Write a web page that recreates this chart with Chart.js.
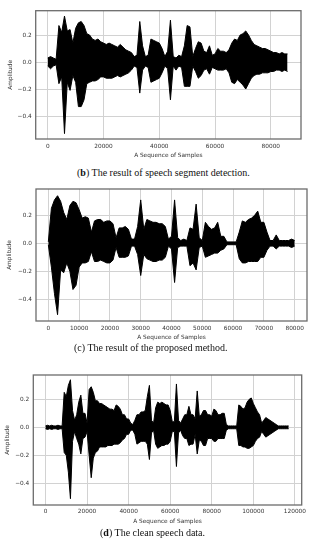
<!DOCTYPE html>
<html>
<head>
<meta charset="utf-8">
<script src="https://cdn.jsdelivr.net/npm/chart.js@4.4.1/dist/chart.umd.min.js"></script>
<style>
  body {
    margin: 0;
    background: #fff;
    width: 312px;
    height: 550px;
    position: relative;
    overflow: hidden;
  }
  .panel { position: absolute; left: 0; }
  .caption {
    position: absolute;
    font-family: "Liberation Serif", serif;
    font-size: 10px;
    color: #111;
    white-space: nowrap;
    line-height: 1;
  }
</style>
</head>
<body>

<div class="panel" style="top:0px"><canvas id="chartB" width="312" height="162"></canvas></div>
<div class="caption" style="left:77px; top:168px">(<b>b</b>) The result of speech segment detection.</div>

<div class="panel" style="top:179px"><canvas id="chartC" width="312" height="165"></canvas></div>
<div class="caption" style="left:74px; top:343px">(c) The result of the proposed method.</div>

<div class="panel" style="top:365px"><canvas id="chartD" width="312" height="163"></canvas></div>
<div class="caption" style="left:100px; top:528px">(<b>d</b>) The clean speech data.</div>

<script>
// one envelope value every 1000 samples
const sampleStep = 1000;

// (b) speech segment detection
const upperB = [
    0.03, 0.04, 0.03, 0.02, 0.27, 0.22, 0.34, 0.23, 0.24, 0.14,
    0.25, 0.29, 0.30, 0.27, 0.21, 0.20, 0.17, 0.16, 0.17, 0.15,
    0.14, 0.13, 0.14, 0.13, 0.12, 0.11, 0.13, 0.11, 0.09, 0.08,
    0.07, 0.04, 0.05, 0.30, 0.12, 0.04, 0.05, 0.17, 0.16, 0.15,
    0.14, 0.10, 0.04, 0.08, 0.31, 0.04, 0.03, 0.05, 0.04, 0.12,
    0.27, 0.26, 0.04, 0.10, 0.15, 0.14, 0.08, 0.07, 0.12, 0.05,
    0.06, 0.10, 0.08, 0.08, 0.07, 0.09, 0.14, 0.17, 0.16, 0.20,
    0.21, 0.23, 0.20, 0.16, 0.13, 0.12, 0.11, 0.10, 0.10, 0.09,
    0.08, 0.07, 0.07, 0.06, 0.07, 0.06, 0.06
];
const lowerB = [
    -0.03, -0.05, -0.03, -0.02, -0.16, -0.11, -0.53, -0.15, -0.21, -0.10,
    -0.15, -0.33, -0.33, -0.28, -0.16, -0.15, -0.14, -0.14, -0.13, -0.11,
    -0.11, -0.12, -0.12, -0.12, -0.11, -0.10, -0.11, -0.10, -0.09, -0.08,
    -0.06, -0.03, -0.04, -0.23, -0.06, -0.03, -0.04, -0.15, -0.14, -0.13,
    -0.12, -0.08, -0.03, -0.05, -0.28, -0.03, -0.06, -0.03, -0.04, -0.18,
    -0.18, -0.18, -0.03, -0.07, -0.12, -0.10, -0.06, -0.05, -0.09, -0.04,
    -0.05, -0.06, -0.06, -0.06, -0.05, -0.08, -0.15, -0.16, -0.13, -0.15,
    -0.17, -0.20, -0.16, -0.12, -0.10, -0.09, -0.09, -0.08, -0.08, -0.08,
    -0.07, -0.07, -0.06, -0.06, -0.07, -0.06, -0.07
];

// (c) proposed method
const upperC = [
    0.01, 0.25, 0.31, 0.34, 0.30, 0.22, 0.17, 0.27, 0.30, 0.29,
    0.24, 0.18, 0.19, 0.18, 0.08, 0.16, 0.17, 0.17, 0.15, 0.16,
    0.16, 0.14, 0.04, 0.11, 0.11, 0.12, 0.10, 0.03, 0.03, 0.12,
    0.31, 0.10, 0.17, 0.16, 0.15, 0.15, 0.14, 0.14, 0.12, 0.03,
    0.05, 0.31, 0.04, 0.02, 0.03, 0.02, 0.11, 0.10, 0.28, 0.04,
    0.02, 0.15, 0.12, 0.10, 0.11, 0.15, 0.05, 0.05, 0.01, 0.01,
    0.01, 0.01, 0.08, 0.16, 0.15, 0.17, 0.18, 0.20, 0.23, 0.15,
    0.15, 0.08, 0.02, 0.02, 0.06, 0.02, 0.02, 0.02, 0.02, 0.03,
    0.02
];
const lowerC = [
    -0.01, -0.17, -0.36, -0.51, -0.19, -0.21, -0.14, -0.20, -0.33, -0.30,
    -0.17, -0.14, -0.14, -0.13, -0.06, -0.13, -0.13, -0.12, -0.13, -0.14,
    -0.14, -0.12, -0.03, -0.10, -0.10, -0.10, -0.09, -0.02, -0.02, -0.08,
    -0.23, -0.08, -0.11, -0.12, -0.13, -0.13, -0.12, -0.12, -0.10, -0.02,
    -0.04, -0.28, -0.03, -0.02, -0.02, -0.02, -0.16, -0.14, -0.19, -0.03,
    -0.02, -0.10, -0.09, -0.08, -0.07, -0.07, -0.05, -0.04, -0.01, -0.01,
    -0.01, -0.01, -0.11, -0.14, -0.14, -0.13, -0.13, -0.13, -0.13, -0.10,
    -0.10, -0.05, -0.02, -0.02, -0.04, -0.02, -0.02, -0.02, -0.02, -0.03,
    -0.02
];

// (d) clean speech data
const upperD = [
    0.01, 0.015, 0.01, 0.015, 0.01, 0.01, 0.015, 0.01, 0.01, 0.25,
    0.22, 0.30, 0.34, 0.12, 0.05, 0.09, 0.18, 0.23, 0.10, 0.10,
    0.03, 0.27, 0.29, 0.25, 0.19, 0.19, 0.17, 0.17, 0.16, 0.15,
    0.14, 0.13, 0.13, 0.12, 0.16, 0.15, 0.13, 0.09, 0.09, 0.06,
    0.06, 0.03, 0.02, 0.05, 0.09, 0.09, 0.11, 0.11, 0.12, 0.22,
    0.30, 0.05, 0.03, 0.14, 0.18, 0.17, 0.18, 0.17, 0.16, 0.16,
    0.12, 0.04, 0.04, 0.31, 0.05, 0.03, 0.06, 0.09, 0.09, 0.15,
    0.09, 0.09, 0.06, 0.26, 0.08, 0.09, 0.12, 0.12, 0.09, 0.09,
    0.08, 0.13, 0.12, 0.09, 0.09, 0.10, 0.10, 0.02, 0.01, 0.01,
    0.01, 0.01, 0.01, 0.16, 0.15, 0.13, 0.14, 0.18, 0.20, 0.21,
    0.17, 0.14, 0.11, 0.09, 0.03, 0.05, 0.07, 0.06, 0.05, 0.04,
    0.03, 0.02, 0.01, 0.01, 0.01, 0.01, 0.01, 0.01
];
const lowerD = [
    -0.01, -0.015, -0.01, -0.015, -0.01, -0.01, -0.015, -0.01, -0.01, -0.18,
    -0.20, -0.32, -0.51, -0.10, -0.03, -0.08, -0.12, -0.19, -0.08, -0.07,
    -0.03, -0.20, -0.36, -0.22, -0.18, -0.17, -0.14, -0.14, -0.14, -0.14,
    -0.13, -0.13, -0.13, -0.12, -0.12, -0.12, -0.11, -0.09, -0.08, -0.05,
    -0.05, -0.02, -0.02, -0.05, -0.12, -0.11, -0.10, -0.10, -0.10, -0.12,
    -0.23, -0.04, -0.02, -0.12, -0.15, -0.14, -0.13, -0.13, -0.12, -0.12,
    -0.10, -0.03, -0.03, -0.28, -0.04, -0.02, -0.06, -0.08, -0.08, -0.13,
    -0.12, -0.12, -0.05, -0.19, -0.09, -0.10, -0.13, -0.13, -0.08, -0.08,
    -0.08, -0.10, -0.10, -0.08, -0.08, -0.08, -0.08, -0.02, -0.01, -0.01,
    -0.01, -0.01, -0.01, -0.13, -0.13, -0.14, -0.14, -0.15, -0.15, -0.14,
    -0.13, -0.10, -0.08, -0.07, -0.03, -0.05, -0.07, -0.06, -0.05, -0.04,
    -0.03, -0.02, -0.01, -0.01, -0.01, -0.01, -0.01, -0.01
];

// tick labels
const xTicksB = [0, 20000, 40000, 60000, 80000];
const xTicksC = [0, 10000, 20000, 30000, 40000, 50000, 60000, 70000, 80000];
const xTicksD = [0, 20000, 40000, 60000, 80000, 100000, 120000];
const yTicks = [-0.4, -0.2, 0.0, 0.2];

const xTitle = "A Sequence of Samples";
const yTitle = "Amplitude";

const tickFont = { family: "DejaVu Sans", size: 5.8 };
const textColor = "#333";

// grey box round the plot area
const framePlugin = {
    id: "frame",
    afterDatasetsDraw(chart) {
        const { ctx, chartArea: a } = chart;
        ctx.save();
        ctx.strokeStyle = "#6c6c6c";
        ctx.lineWidth = 1.3;
        ctx.strokeRect(a.left, a.top, a.right - a.left, a.bottom - a.top);
        ctx.restore();
    }
};

function toPoints(values) {
    return values.map((v, i) => ({ x: i * sampleStep, y: v }));
}

function createWave(id, p) {

    const ctx = document.getElementById(id);

    return new Chart(ctx, {

        type: "line",

        data: {
            datasets: [
                {
                    data: toPoints(p.upper),
                    borderColor: "#000",
                    backgroundColor: "#000",
                    borderWidth: 1,
                    pointRadius: 0,
                    tension: 0,
                    fill: "+1"
                },
                {
                    data: toPoints(p.lower),
                    borderColor: "#000",
                    borderWidth: 1,
                    pointRadius: 0,
                    tension: 0,
                    fill: false
                }
            ]
        },

        options: {
            responsive: false,
            animation: false,
            devicePixelRatio: 1,
            layout: {
                padding: { top: p.padTop, right: p.padRight, left: 0, bottom: 0 }
            },
            plugins: {
                legend: { display: false },
                tooltip: { enabled: false }
            },
            scales: {
                x: {
                    type: "linear",
                    min: p.xMin,
                    max: p.xMax,
                    afterBuildTicks: s => { s.ticks = p.xTicks.map(v => ({ value: v })); },
                    afterFit: s => { s.height = p.xAxisHeight; },
                    grid: { color: "#d2d2d2", lineWidth: 1, drawTicks: false },
                    border: { display: false },
                    ticks: {
                        font: tickFont,
                        color: textColor,
                        padding: p.xTickPad,
                        autoSkip: false,
                        maxRotation: 0,
                        callback: v => String(v)
                    },
                    title: {
                        display: true,
                        text: xTitle,
                        font: tickFont,
                        color: textColor,
                        padding: { top: 0, bottom: 3 }
                    }
                },
                y: {
                    type: "linear",
                    min: p.yMin,
                    max: p.yMax,
                    afterBuildTicks: s => { s.ticks = yTicks.map(v => ({ value: v })); },
                    afterFit: s => { s.width = p.yAxisWidth; },
                    grid: { color: "#d2d2d2", lineWidth: 1, drawTicks: false },
                    border: { display: false },
                    ticks: {
                        font: tickFont,
                        color: textColor,
                        padding: 4,
                        callback: v => v.toFixed(1).replace("-", "\u2212")
                    },
                    title: {
                        display: true,
                        text: yTitle,
                        font: tickFont,
                        color: textColor,
                        padding: { top: p.yTitlePad, bottom: 0 }
                    }
                }
            }
        },

        plugins: [framePlugin]
    });
}

createWave("chartB", {
    upper: upperB, lower: lowerB, xTicks: xTicksB,
    xMin: -4325, xMax: 90825, yMin: -0.57, yMax: 0.38,
    padTop: 10.7, padRight: 11, yAxisWidth: 35.7, xAxisHeight: 23,
    xTickPad: 4, yTitlePad: 7.5
});

createWave("chartC", {
    upper: upperC, lower: lowerC, xTicks: xTicksC,
    xMin: -4000, xMax: 84000, yMin: -0.555, yMax: 0.388,
    padTop: 10, padRight: 5, yAxisWidth: 36, xAxisHeight: 23,
    xTickPad: 4, yTitlePad: 6.5
});

createWave("chartD", {
    upper: upperD, lower: lowerD, xTicks: xTicksD,
    xMin: -5870, xMax: 123270, yMin: -0.555, yMax: 0.374,
    padTop: 10, padRight: 10.3, yAxisWidth: 33.3, xAxisHeight: 23,
    xTickPad: 3, yTitlePad: 4
});
</script>
</body>
</html>
